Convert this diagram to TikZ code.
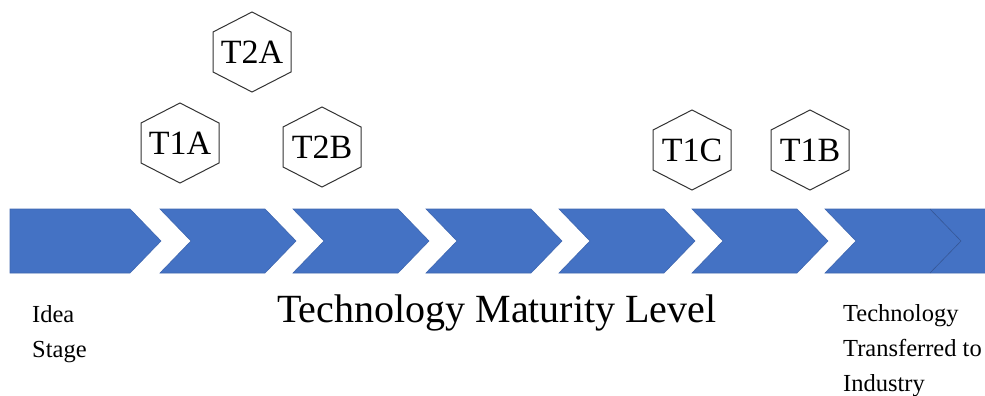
\documentclass[tikz,border=0pt]{standalone}
\usepackage{fontspec}
\setmainfont{Liberation Serif}
\definecolor{chevblue}{HTML}{4472C4}
\definecolor{chevedge}{HTML}{3F67B0}
\definecolor{hexgray}{HTML}{333333}
\newcommand\hexround[1]{%
  \draw[hexline] ([shift={(0,-40)}]#1.center) -- ([shift={(39,-20)}]#1.center)
    -- ([shift={(39,20)}]#1.center) -- ([shift={(0,40)}]#1.center)
    -- ([shift={(-39,20)}]#1.center) -- ([shift={(-39,-20)}]#1.center) -- cycle;}
\begin{document}
\begin{tikzpicture}[x=1pt,y=-1pt,
  chev/.style={fill=chevblue,draw=chevedge,line width=0.6pt,line join=miter},
  hexline/.style={draw=hexgray,line width=1pt},
  hexlabel/.style={inner sep=0pt,font=\fontsize{34}{40}\selectfont},
  smalltext/.style={inner sep=0pt,align=left,anchor=north west,font=\fontsize{24.5}{35}\selectfont},
  titletext/.style={inner sep=0pt,anchor=base west,font=\fontsize{40}{46}\selectfont}]
\useasboundingbox (0,0) rectangle (985,396);
\fill[white] (0,0) rectangle (985,396);
% chevrons
\path[chev] (10,209) -- (130,209) -- (161,241) -- (130,273) -- (10,273) -- cycle;
\foreach \s in {160,293,426,559,692}{
  \path[chev] (\s,209) -- (\s+105,209) -- (\s+136,241) -- (\s+105,273) -- (\s,273) -- (\s+31,241) -- cycle;
}
\path[chev] (825,209) -- (1000,209) -- (1000,273) -- (825,273) -- (856,241) -- cycle;
\draw[chevedge!85!black,line width=0.6pt] (930,209) -- (961,241) -- (930,273);
% hexagons
\node[hexlabel] (t2a) at (252,52) {T2A};
\node[hexlabel] (t1a) at (180,143) {T1A};
\node[hexlabel] (t2b) at (322,147) {T2B};
\node[hexlabel] (t1c) at (692,150) {T1C};
\node[hexlabel] (t1b) at (810,150) {T1B};
\hexround{t2a}
\hexround{t1a}
\hexround{t2b}
\hexround{t1c}
\hexround{t1b}
% texts
\node[titletext] (title) at (277,322) {Technology Maturity Level};
\node[smalltext] (idea) at (32,305) {Idea\\Stage};
\node[smalltext] (transfer) at (843,304) {Technology\\Transferred to\\Industry};
\end{tikzpicture}
\end{document}
